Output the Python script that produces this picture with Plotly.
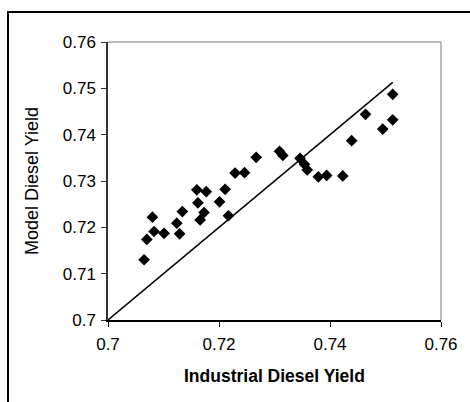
import plotly.graph_objects as go

# Industrial vs model diesel yield (fractions)
industrial_yield = [
    0.7065, 0.7070, 0.7080, 0.7083, 0.7101, 0.7124, 0.7129, 0.7134,
    0.7160, 0.7177, 0.7162, 0.7173, 0.7166, 0.7201, 0.7211, 0.7217,
    0.7229, 0.7246, 0.7267, 0.7309, 0.7315, 0.7346, 0.7354, 0.7359,
    0.7379, 0.7394, 0.7423, 0.7439, 0.7464, 0.7495, 0.7513, 0.7513,
]
model_yield = [
    0.7130, 0.7174, 0.7222, 0.7191, 0.7187, 0.7209, 0.7186, 0.7234,
    0.7281, 0.7277, 0.7253, 0.7232, 0.7216, 0.7255, 0.7282, 0.7225,
    0.7317, 0.7318, 0.7351, 0.7364, 0.7355, 0.7349, 0.7336, 0.7324,
    0.7309, 0.7312, 0.7311, 0.7387, 0.7444, 0.7412, 0.7432, 0.7487,
]
# Parity line y = x
parity_x = [0.70, 0.7513]
parity_y = [0.70, 0.7513]

x_ticks = [0.70, 0.72, 0.74, 0.76]
x_tick_text = ["0.7", "0.72", "0.74", "0.76"]
y_ticks = [0.70, 0.71, 0.72, 0.73, 0.74, 0.75, 0.76]
y_tick_text = ["0.7", "0.71", "0.72", "0.73", "0.74", "0.75", "0.76"]

W, H = 470, 402
L, R, T, B = 108, 441, 42, 320  # plot area in pixels

fig = go.Figure()
fig.add_trace(go.Scatter(
    x=parity_x, y=parity_y, mode="lines",
    line=dict(color="black", width=1.5), hoverinfo="skip", showlegend=False,
))
fig.add_trace(go.Scatter(
    x=industrial_yield, y=model_yield, mode="markers",
    marker=dict(symbol="diamond", size=9, color="black", line=dict(width=0)),
    showlegend=False,
))

font = "Liberation Sans, Arial, sans-serif"
pw, ph = R - L, B - T


def px_x(p):
    return (p - L) / pw


def px_y(p):
    return (B - p) / ph


fig.update_layout(
    width=W, height=H,
    margin=dict(l=L, r=W - R, t=T, b=H - B, pad=0),
    paper_bgcolor="white", plot_bgcolor="white",
    font=dict(family=font, color="black", size=17),
    xaxis=dict(
        range=[0.70, 0.76], tickvals=x_ticks, ticktext=x_tick_text,
        showgrid=False, zeroline=False,
        showline=True, linecolor="black", linewidth=1.5,
        ticks="outside", ticklen=5, tickcolor="black", tickwidth=1,
        tickfont=dict(size=17), ticklabelstandoff=3,
    ),
    yaxis=dict(
        range=[0.70, 0.76], tickvals=y_ticks, ticktext=y_tick_text,
        showgrid=False, zeroline=False,
        showline=True, linecolor="#333333", linewidth=1.5,
        ticks="outside", ticklen=5, tickcolor="#333333", tickwidth=1,
        tickfont=dict(size=17), ticklabelstandoff=2,
    ),
    shapes=[
        # plot-area frame (top and right edges)
        dict(type="line", xref="paper", yref="paper", x0=0, x1=1, y0=1, y1=1,
             line=dict(color="#a6a6a6", width=1.5)),
        dict(type="line", xref="paper", yref="paper", x0=1, x1=1, y0=0, y1=1,
             line=dict(color="#a6a6a6", width=1.5)),
        # chart border
        dict(type="rect", xref="paper", yref="paper",
             x0=px_x(8), x1=px_x(490), y0=px_y(12), y1=px_y(420),
             line=dict(color="black", width=2), layer="below"),
    ],
    annotations=[
        dict(text="Model Diesel Yield", xref="paper", yref="paper",
             x=px_x(32), y=px_y(181), textangle=-90, showarrow=False,
             font=dict(size=18, family=font), xanchor="center", yanchor="middle"),
        dict(text="<b>Industrial Diesel Yield</b>", xref="paper", yref="paper",
             x=px_x(274), y=px_y(376), showarrow=False,
             font=dict(size=17.5, family=font), xanchor="center", yanchor="middle"),
    ],
)

fig.write_html("out.html")
